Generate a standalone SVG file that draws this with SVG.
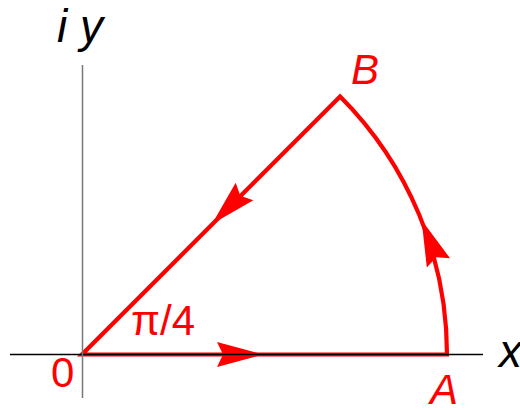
<svg xmlns="http://www.w3.org/2000/svg" width="520" height="410" viewBox="0 0 520 410">
<style>
.lbl{font-family:"Liberation Sans",Arial,sans-serif;font-size:42px;fill:#f00}
.ax{font-family:"Liberation Sans",Arial,sans-serif;font-size:46px;font-style:italic;fill:#000}
.it{font-style:italic}
.path{fill:none;stroke:#f00;stroke-width:4.2;stroke-linejoin:miter}
.head{fill:#f00;stroke:none}
</style>
<defs>
<path id="ah" d="M0,0 L-46,-12.5 L-40,0 L-46,12.5 Z"/>
</defs>
<rect width="520" height="410" fill="#fff"/>
<g id="contour">
<path class="path" d="M82,354.5 L447,354.5 A365,365 0 0 0 340.1,96.4 Z"/>
<use href="#ah" class="head" transform="translate(263,354.5)"/>
<use href="#ah" class="head" transform="translate(212,224) rotate(135)"/>
<use href="#ah" class="head" transform="translate(421.6,220.1) rotate(-111.5)"/>
</g>
<g id="axes">
<line x1="10" y1="354.5" x2="483" y2="354.5" stroke="#000" stroke-width="1.3"/>
<line x1="82.5" y1="65" x2="82.5" y2="398" stroke="#777" stroke-width="1.5"/>
</g>
<g id="labels">
<text class="ax" x="57" y="42">i y</text>
<text class="ax" x="499" y="367">x</text>
<text class="lbl" x="51" y="387">0</text>
<text class="lbl" x="131" y="335">π/4</text>
<text class="lbl it" x="351" y="84">B</text>
<text class="lbl it" x="430" y="404">A</text>
</g>
</svg>
